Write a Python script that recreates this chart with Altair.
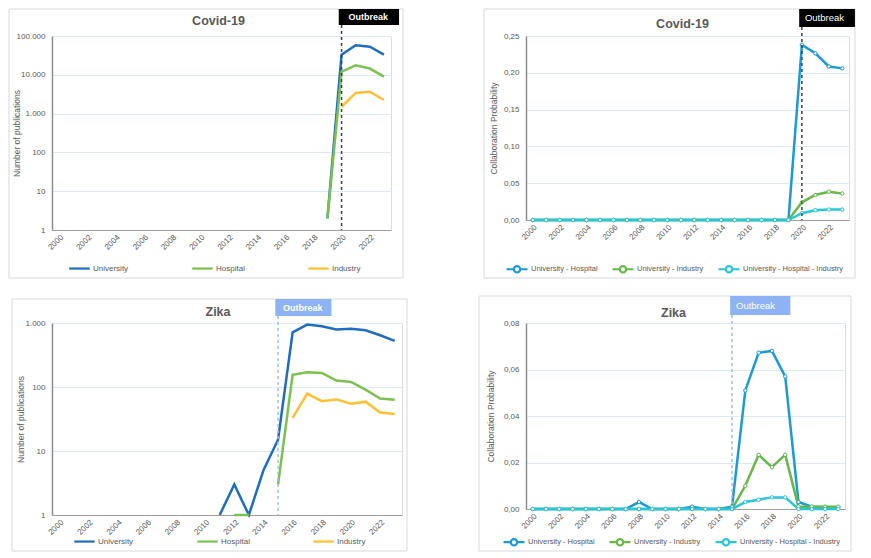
import altair as alt
import pandas as pd

N = None
years = list(range(2000, 2024))

# Number of publications (log scale), Covid-19
covid_univ = [N] * 19 + [2, 33000, 58000, 53000, 33000]
covid_hosp = [N] * 19 + [2, 12000, 17500, 14500, 9000]
covid_ind = [N] * 20 + [1500, 3400, 3650, 2240]

# Number of publications (log scale), Zika
zika_univ = [N] * 11 + [1, 3, 1, 5, 15, 713, 944, 890, 794, 810, 768, 643, 527]
zika_hosp = [N] * 12 + [1, 1, N, 3, 155, 170, 166, 126, 120, 91, 66, 63]
zika_ind = [N] * 16 + [33, 79, 60, 64, 55, 59, 40, 38]

# Collaboration probability, Covid-19
covid_uh = [0] * 20 + [0.238, 0.2265, 0.2086, 0.206]
covid_ui = [0] * 20 + [0.024, 0.034, 0.0385, 0.036]
covid_uhi = [0] * 20 + [0.0092, 0.0133, 0.0142, 0.0142]

# Collaboration probability, Zika
zika_uh = [0] * 8 + [0.003] + [0] * 3 + [0.001, 0, 0, 0.001, 0.051, 0.0672, 0.068, 0.057, 0.003, 0.001, 0.0008, 0.0008]
zika_ui = [0] * 16 + [0.010, 0.0233, 0.018, 0.0233, 0.001, 0.001, 0.001, 0.001]
zika_uhi = [0] * 16 + [0.003, 0.004, 0.005, 0.005, 0, 0, 0, 0]

pub_series = ["University", "Hospital", "Industry"]
pub_colors = ["#1f6dc0", "#7cc14f", "#fdc02f"]
col_series = ["University - Hospital", "University - Industry", "University - Hospital - Industry"]
col_colors = ["#1a9ad6", "#66b848", "#27c6da"]

FONT = "Liberation Sans"
GRAY = "#595959"
GRID = "#dbeaf5"


def long_df(series_names, arrays):
    rows = []
    for name, arr in zip(series_names, arrays):
        for y, v in zip(years, arr):
            rows.append({"year": y, "series": name, "value": v})
    return pd.DataFrame(rows)


one = pd.DataFrame({"k": [0]})


def panel(df, series, colors, kind, title, w, h, frame, title_dx, title_y, ytitle_x,
          legend_x, legend_y, col_pad, legend_font, outbreak_year, box_style):
    xscale = alt.Scale(domain=[1999.5, 2023.5], nice=False)
    xaxis = alt.Axis(values=list(range(2000, 2023, 2)), format="d", labelAngle=-45,
                     labelOverlap=False, ticks=False, grid=False, title=None,
                     labelFontSize=8, labelColor=GRAY, domainColor="#a0a0a0",
                     domainWidth=1.2, labelFont=FONT, labelPadding=3)
    common = dict(ticks=False, gridColor=GRID, labelFontSize=8, labelColor=GRAY,
                  titleFontSize=8.5, titleFontWeight="normal", titleColor=GRAY,
                  domainColor="#8c8c8c", domainWidth=1.5, labelFont=FONT, titleFont=FONT,
                  labelPadding=7, titleX=ytitle_x, titleY=h / 2, titleAngle=-90,
                  titleAlign="center", titleBaseline="middle")
    if kind == "pub":
        top = 100000 if title == "Covid-19" else 1000
        vals = [v for v in [1, 10, 100, 1000, 10000, 100000] if v <= top]
        yscale = alt.Scale(type="log", domain=[1, top], nice=False)
        yaxis = alt.Axis(values=vals, labelExpr="replace(format(datum.value, ',d'), ',', '.')",
                         title="Number of publications", **common)
        sym = "stroke"
        sym_size = 420
    else:
        top = 0.25 if title == "Covid-19" else 0.08
        step = 0.05 if title == "Covid-19" else 0.02
        n = int(round(top / step))
        vals = [round(i * step, 2) for i in range(n + 1)]
        yscale = alt.Scale(domain=[0, top], nice=False)
        yaxis = alt.Axis(values=vals, labelExpr="replace(format(datum.value, '.2f'), '.', ',')",
                         title="Collaboration Probability", **common)
        sym = "M-1,0L-0.3,0M0.3,0L1,0M0.3,0A0.3,0.3,0,1,1,-0.3,0A0.3,0.3,0,1,1,0.3,0"
        sym_size = 441

    color = alt.Color("series:N", scale=alt.Scale(domain=series, range=colors),
                      sort=series,
                      legend=alt.Legend(orient="none", legendX=legend_x, legendY=legend_y,
                                        direction="horizontal", title=None, symbolType=sym,
                                        symbolSize=sym_size, symbolStrokeWidth=2.2,
                                        symbolFillColor="white", labelFontSize=legend_font,
                                        labelColor=GRAY, labelFont=FONT,
                                        columnPadding=col_pad, symbolOffset=0,
                                        labelOffset=2))

    fl, fr, ft, fb = frame
    frame_layer = alt.Chart(one).mark_rect(fillOpacity=0, stroke="#d9d9d9", strokeWidth=1).encode(
        x=alt.value(fl), x2=alt.value(w + fr), y=alt.value(ft), y2=alt.value(h + fb))

    if kind == "pub":
        line = alt.Chart(df).mark_line(strokeWidth=2.5).encode(
            x=alt.X("year:Q", scale=xscale, axis=xaxis),
            y=alt.Y("value:Q", scale=yscale, axis=yaxis),
            color=color, order="year:Q")
    else:
        line = alt.Chart(df).mark_line(
            strokeWidth=2.5,
            point=alt.OverlayMarkDef(filled=False, fill="white", size=12, strokeWidth=1)).encode(
            x=alt.X("year:Q", scale=xscale, axis=xaxis),
            y=alt.Y("value:Q", scale=yscale, axis=yaxis),
            color=color, order="year:Q")

    box_color, dash_color, text_weight, text_size, bx1, bx2, by1, by2, tdx = box_style
    ann = pd.DataFrame({"yr": [outbreak_year], "b1": [bx1], "b2": [bx2]})
    rule = alt.Chart(ann).mark_rule(strokeDash=[3, 3], strokeWidth=1.5, color=dash_color).encode(
        x=alt.X("yr:Q", scale=xscale, axis=xaxis), y=alt.value(by2), y2=alt.value(h))
    rect = alt.Chart(ann).mark_rect(fill=box_color).encode(
        x=alt.X("b1:Q", scale=xscale, axis=xaxis), x2="b2:Q", y=alt.value(by1), y2=alt.value(by2))
    btext = alt.Chart(ann).mark_text(text="Outbreak", color="white", fontSize=text_size,
                                     fontWeight=text_weight, font=FONT, align="left",
                                     baseline="middle", dx=tdx).encode(
        x=alt.X("yr:Q", scale=xscale, axis=xaxis), y=alt.value((by1 + by2) / 2))
    ttext = alt.Chart(one).mark_text(text=title, color=GRAY, fontSize=12.5, fontWeight="bold",
                                     font=FONT, baseline="middle").encode(
        x=alt.value(w / 2 + title_dx), y=alt.value(title_y))

    return alt.layer(frame_layer, line, rule, rect, btext, ttext).properties(width=w, height=h)


df_cp = long_df(pub_series, [covid_univ, covid_hosp, covid_ind])
df_zp = long_df(pub_series, [zika_univ, zika_hosp, zika_ind])
df_cc = long_df(col_series, [covid_uh, covid_ui, covid_uhi])
df_zc = long_df(col_series, [zika_uh, zika_ui, zika_uhi])

tl = panel(df_cp, pub_series, pub_colors, "pub", "Covid-19", 339, 194,
           frame=(-43, 12, -27, 48), title_dx=-3, title_y=-15, ytitle_x=-36,
           legend_x=16, legend_y=221, col_pad=58, legend_font=8, outbreak_year=2020,
           box_style=("#000000", "#404040", "bold", 9, 2019.8, 2024.07, -27, -11, 7))
tr = panel(df_cc, col_series, col_colors, "col", "Covid-19", 323, 184,
           frame=(-42, 6, -27, 58), title_dx=-5, title_y=-12, ytitle_x=-33,
           legend_x=-21, legend_y=221, col_pad=10, legend_font=7.5, outbreak_year=2020,
           box_style=("#000000", "#404040", "normal", 9.5, 2019.8, 2023.94, -27, -9, 3))
bl = panel(df_zp, pub_series, pub_colors, "pub", "Zika", 350, 192,
           frame=(-40, 5, -24, 36), title_dx=-9, title_y=-11, ytitle_x=-32,
           legend_x=21, legend_y=207, col_pad=58, legend_font=8, outbreak_year=2015,
           box_style=("#8db3f5", "#9dbff5", "bold", 9, 2014.81, 2018.66, -24, -7, 5))
br = panel(df_zc, col_series, col_colors, "col", "Zika", 319, 186,
           frame=(-47, 6, -27, 42), title_dx=-12, title_y=-10, ytitle_x=-36,
           legend_x=-24, legend_y=207, col_pad=10, legend_font=7.5, outbreak_year=2015,
           box_style=("#8db3f5", "#9dbff5", "normal", 9.5, 2014.86, 2019.39, -27, -8, 4))

chart = alt.concat(tl, tr, bl, br, columns=2, spacing={"row": 16, "column": 70}
                   ).resolve_scale(color="independent").resolve_legend(
    color="independent").properties(padding=0, align="each").configure_view(
    stroke=None).configure_axisX(labelOverlap=False).configure(font=FONT, background="white")

chart.save("out.html", embed_options={"renderer": "svg", "actions": False})
